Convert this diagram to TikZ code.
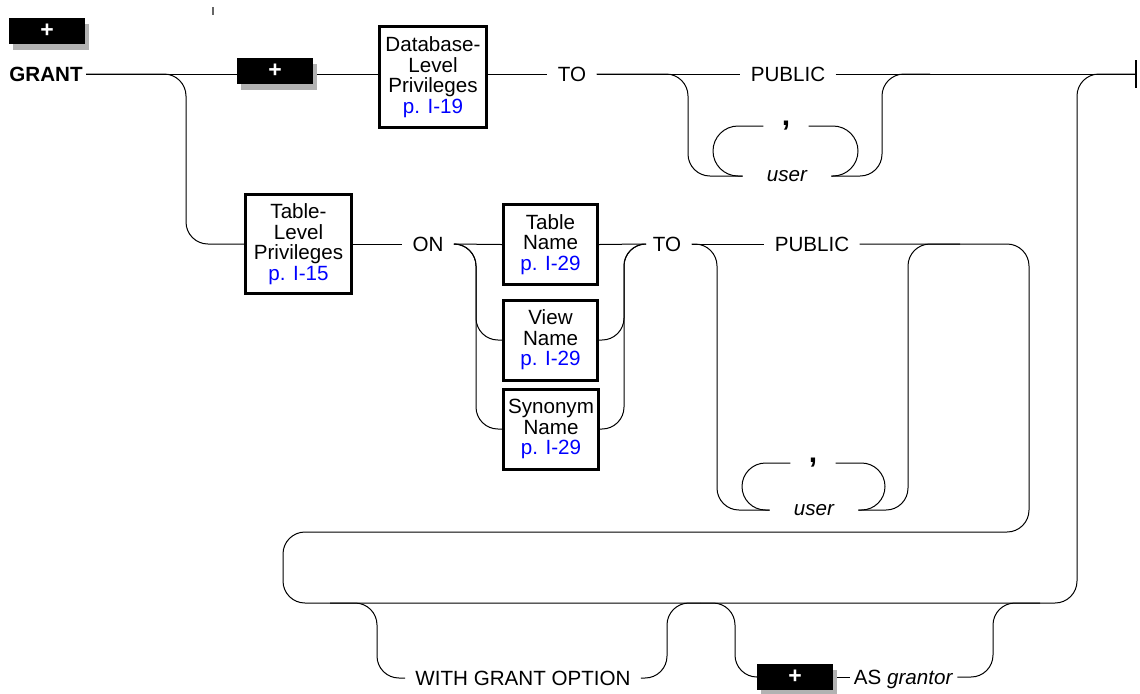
\documentclass[tikz,border=0pt]{standalone}
\usepackage{fontspec}
\setmainfont{Liberation Sans}
\usetikzlibrary{shadows}

\newcommand{\railfont}{\fontsize{10.3}{10.3}\selectfont}
\newcommand{\seepage}[1]{\textcolor{blue}{p. I-#1}}

\begin{document}
\begin{tikzpicture}[x=0.5pt, y=-0.5pt,
    font=\railfont,
    rail/.style={line width=0.5pt, rounded corners=11pt},
    word/.style={inner xsep=5pt, inner ysep=1pt, text depth=0pt},
    userword/.style={word, inner xsep=12pt, font=\railfont\itshape},
    sepword/.style={inner xsep=9pt, inner ysep=0pt, font=\fontsize{15}{15}\selectfont\bfseries},
    refbox/.style={draw, line width=1.5pt, align=center, inner sep=0pt},
    plusbox/.style={fill=black, text=white, font=\fontsize{11.5}{11.5}\selectfont\bfseries, minimum width=38pt, minimum height=13pt, inner sep=0pt,
      drop shadow={shadow xshift=2pt, shadow yshift=-3pt, fill=black!30, opacity=1}}
  ]
    \useasboundingbox (0,0) rectangle (1140,693);
    \draw[black!60, line width=0.6pt] (213,7) -- (213,15);

    \node[plusbox] (plus0) at (47,31) {+};
    \node[word, inner xsep=1.5pt, font=\railfont\bfseries] (grant) at (46,74) {GRANT};
    \node[plusbox] (plusA) at (275,71) {+};
    \node[refbox, minimum width=53.5pt, minimum height=50.5pt] (dbpriv) at (433,77) {Database-\\Level\\Privileges\\\seepage{19}};
    \node[word] (to1) at (572,74) {TO};
    \node[word] (pub1) at (788,74) {PUBLIC};
    \node[sepword] (comma1) at (786,126) {,};
    \node[userword] (user1) at (787,176) {user};
    \coordinate (stop) at (1136,74);

    \node[refbox, minimum width=53pt, minimum height=49.5pt] (tlpriv) at (298.5,244) {Table-\\Level\\Privileges\\\seepage{15}};
    \node[word] (on) at (428,244) {ON};
    \node[refbox, minimum width=47pt, minimum height=40pt] (tname) at (550.5,244.5) {Table\\Name\\\seepage{29}};
    \node[refbox, minimum width=47pt, minimum height=40pt] (vname) at (550.5,340) {View\\Name\\\seepage{29}};
    \node[refbox, minimum width=47.5pt, minimum height=40pt] (sname) at (551,429) {Synonym\\Name\\\seepage{29}};
    \node[word] (to2) at (667,244) {TO};
    \node[word] (pub2) at (812,244) {PUBLIC};
    \node[sepword] (comma2) at (813,463) {,};
    \node[userword] (user2) at (814,510) {user};

    \node[word] (wgo) at (523,678) {WITH GRANT OPTION};
    \node[plusbox] (plusB) at (795,677) {+};
    \node[word, inner xsep=2pt] (asg) at (903.5,677) {AS \textit{grantor}};

    % main line
    \draw[rail] (grant.east) -- (plusA.west |- grant.east);
    \draw[rail] ([xshift=2pt]plusA.east |- grant.east) -- (dbpriv.west |- grant.east);
    \draw[rail] (dbpriv.east |- grant.east) -- (to1.west);
    \draw[rail] (to1.east) -- (pub1.west);
    \draw[rail] (pub1.east) -- (stop);
    \draw[line width=0.6pt] ([yshift=7pt]stop) -- ([yshift=-7pt]stop);

    \draw[rail] (to1.east) -- (688,74) -- (688,176) -- (user1.west);
    \draw[rail, rounded corners=12.5pt] (comma1.west) -- (713,126) -- (713,176) -- (user1.west);
    \draw[rail, rounded corners=12.5pt] (comma1.east) -- (858,126) -- (858,176) -- (user1.east);
    \draw[rail] (user1.east) -- (882,176) -- (882,74) -- (930,74);

    % table level
    \draw[rail] (grant.east) -- (186,74) -- (186,244) -- (tlpriv.west);
    \draw[rail] (tlpriv.east) -- (on.west);
    \draw[rail] (on.east) -- (tname.west);
    \draw[rail] (on.east) -- (476,244) -- (476,340) -- (vname.west);
    \draw[rail] (on.east) -- (476,244) -- (476,429) -- (sname.west);
    \draw[rail] (tname.east) -- (to2.west);
    \draw[rail] (vname.east) -- (624,340) -- (624,244) -- (to2.west);
    \draw[rail] (sname.east) -- (624,429) -- (624,244) -- (to2.west);
    \draw[rail] (to2.east) -- (pub2.west);
    \draw[rail] (to2.east) -- (717,244) -- (717,510) -- (user2.west);
    \draw[rail, rounded corners=11.75pt] (comma2.west) -- (742,463) -- (742,510) -- (user2.west);
    \draw[rail, rounded corners=11.75pt] (comma2.east) -- (885,463) -- (885,510) -- (user2.east);
    \draw[rail] (user2.east) -- (908,510) -- (908,244) -- (960,244);
    \draw[rail] (pub2.east) -- (1029,244) -- (1029,532) -- (283,532) -- (283,603) -- (1077,603) -- (1077,74) -- (stop);

    % options at the end
    \draw[rail] (330,603) -- (377,603) -- (377,678) -- (wgo.west);
    \draw[rail] (wgo.east) -- (667,678) -- (667,603) -- (700,603);
    \draw[rail] (700,603) -- (735,603) -- (735,677) -- (plusB.west);
    \draw[rail] ([xshift=2pt]plusB.east) -- (asg.west);
    \draw[rail] (asg.east) -- (993,677) -- (993,603) -- (1040,603);
\end{tikzpicture}
\end{document}
